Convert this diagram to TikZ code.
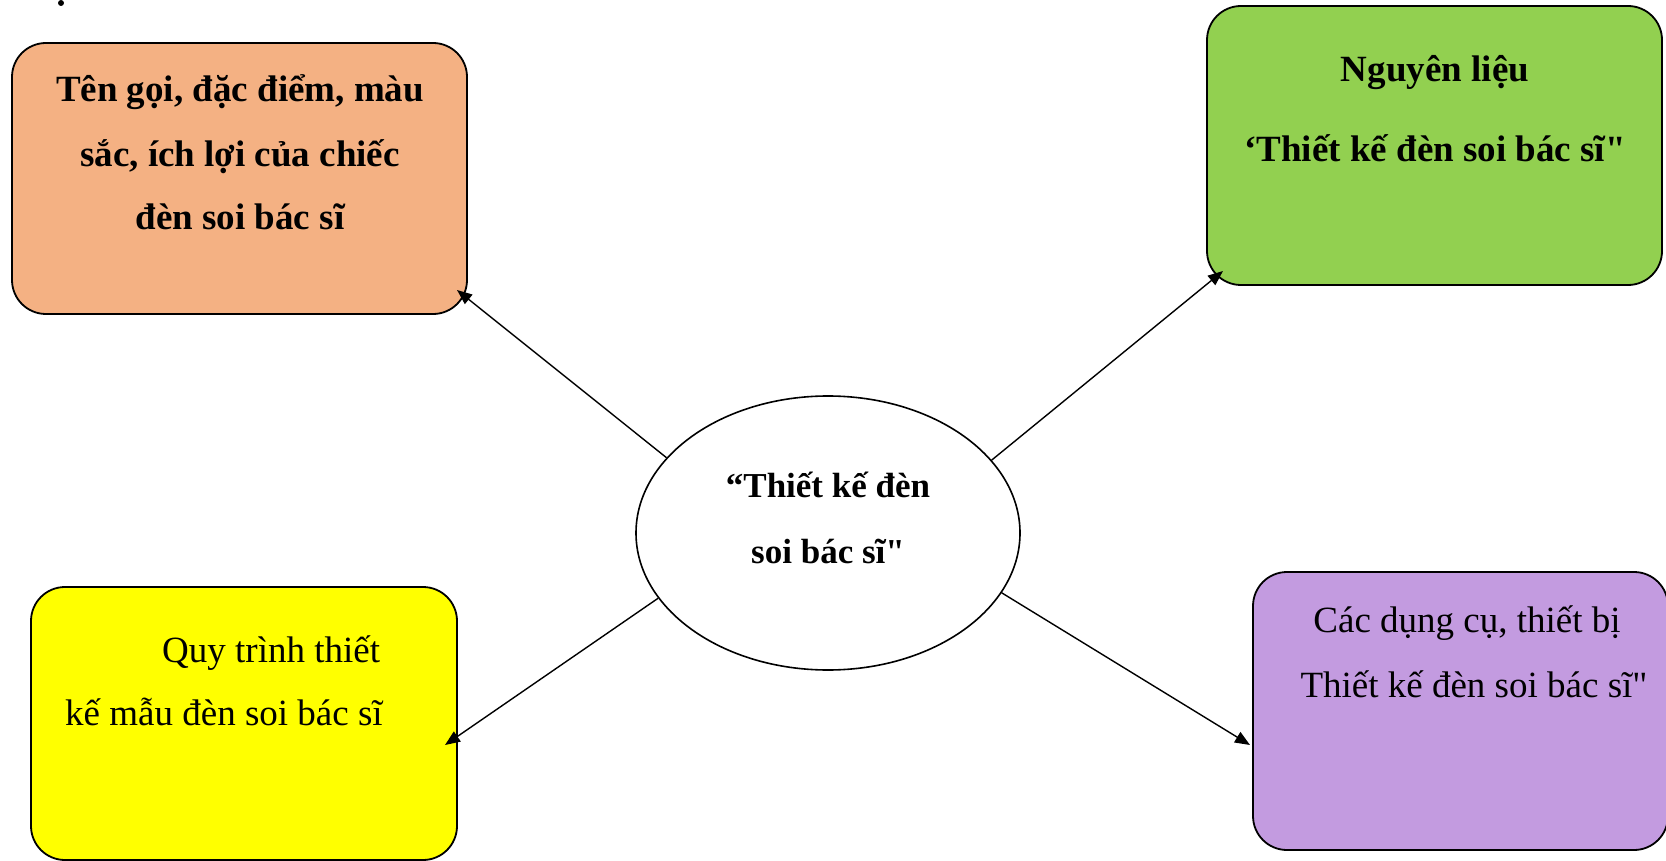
\documentclass[tikz,border=0pt]{standalone}
\usepackage{fontspec}
\setmainfont{Liberation Serif}[Ligatures=TeXOff]
\usetikzlibrary{shapes.geometric,arrows.meta}
\definecolor{cOrange}{HTML}{F4B183}
\definecolor{cGreen}{HTML}{92D050}
\definecolor{cYellow}{HTML}{FFFF00}
\definecolor{cPurple}{HTML}{C39BE0}
\tikzset{
  box/.style={draw=black, line width=1.8pt, rounded corners=34pt, inner sep=0pt},
  bt/.style={font=\fontsize{37}{44}\selectfont\bfseries, anchor=base, inner sep=0pt},
  rt/.style={font=\fontsize{37}{44}\selectfont, anchor=base, inner sep=0pt},
  rtl/.style={font=\fontsize{37}{44}\selectfont, anchor=base west, inner sep=0pt},
  et/.style={font=\fontsize{35}{42}\selectfont\bfseries, anchor=base, inner sep=0pt},
  arr/.style={line width=1.4pt, -{Triangle[length=15pt,width=12pt]}},
}
\begin{document}
\begin{tikzpicture}[x=1pt,y=-1pt]
\useasboundingbox (0,0) rectangle (1666,861);
\fill[white] (0,0) rectangle (1666,861);
% stray dot
\node[circle, fill=black, inner sep=0pt, minimum size=6pt] (dot) at (61,3) {};
% boxes
\node[box, fill=cOrange, minimum width=455pt, minimum height=271pt] (orange) at (239.5,178.5) {};
\node[box, fill=cGreen, minimum width=455pt, minimum height=279pt] (green) at (1434.5,145.5) {};
\node[box, fill=cYellow, minimum width=426pt, minimum height=273pt] (yellow) at (244,723.5) {};
\node[box, fill=cPurple, minimum width=415pt, minimum height=278pt] (purple) at (1460.5,711) {};
\node[ellipse, draw=black, line width=1.6pt, fill=white, minimum width=384pt, minimum height=274pt, inner sep=0pt] (ell) at (828,533) {};
% texts
\node[bt] (o1) at (240,102) {Tên gọi, đặc điểm, màu};
\node[bt] (o2) at (240,167) {sắc, ích lợi của chiếc};
\node[bt] (o3) at (240,230) {đèn soi bác sĩ};
\node[bt] (g1) at (1435,82) {Nguyên liệu};
\node[bt] (g2) at (1435,162) {‘Thiết kế đèn soi bác sĩ"};
\node[et] (e1) at (828,497) {“Thiết kế đèn};
\node[et] (e2) at (828,563) {soi bác sĩ"};
\node[rtl] (y1) at (162,662) {Quy trình thiết};
\node[rtl] (y2) at (65,725) {kế mẫu đèn soi bác sĩ};
\node[rt] (p1) at (1467,632) {Các dụng cụ, thiết bị};
\node[rt] (p2) at (1474,697) {Thiết kế đèn soi bác sĩ"};
% arrow tips
\coordinate (t1) at (457,290);
\coordinate (t2) at (1223,271);
\coordinate (t3) at (445,745);
\coordinate (t4) at (1250,745);
\draw[arr] (ell.155.6) -- (t1);
\draw[arr] (ell.24.3) -- (t2);
\draw[arr] (ell.201.2) -- (t3);
\draw[arr] (ell.-19.2) -- (t4);
\end{tikzpicture}
\end{document}
